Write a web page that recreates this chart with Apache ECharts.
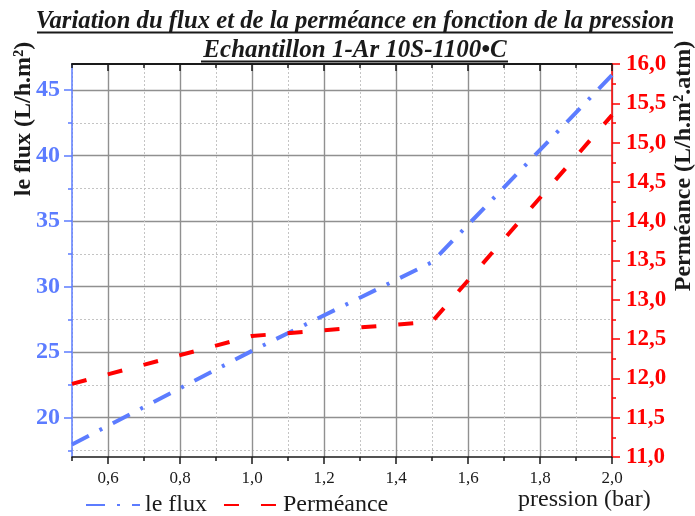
<!DOCTYPE html>
<html><head><meta charset="utf-8">
<script src="https://cdn.jsdelivr.net/npm/echarts@6/dist/echarts.min.js"></script>
<style>html,body{margin:0;padding:0;background:#fff}#c{width:695px;height:516px}</style>
</head><body><div id="c"></div>
<script>
const pression = [0.5, 1.0, 1.5, 2.0];
const flux = [17.96, 25.1, 31.87, 46.15];
const permeance = [11.93, 12.54, 12.72, 15.35];
const xMajorTicks = [0.6, 0.8, 1.0, 1.2, 1.4, 1.6, 1.8, 2.0];
const xMinorTicks = [0.5, 0.7, 0.9, 1.1, 1.3, 1.5, 1.7, 1.9];
const fluxTicks = [20, 25, 30, 35, 40, 45];
const fluxMinorTicks = [17.5, 22.5, 27.5, 32.5, 37.5, 42.5];
const titleText = 'Variation du flux et de la perméance en fonction de la pression';
const subtitleText = 'Echantillon 1-Ar 10S-1100•C';
const seriesNames = ['le flux', 'Perméance'];
const xName = 'pression (bar)';
const yLeftName = 'le flux (L/h.m²)';
const yRightName = 'Perméance (L/h.m².atm)';

const FONT = '"Liberation Serif", "Times New Roman", serif';
const BLUE = '#5c7cff';
const RED = '#ff0000';
const DARK = '#1a1a1a';
const comma = v => v.toFixed(1).replace('.', ',');

const chart = echarts.init(document.getElementById('c'), null, {renderer: 'canvas'});
const xBase = {type: 'value', min: 0.5, max: 2.0, gridIndex: 0};
const yLeftBase = {type: 'value', min: 17, max: 47, position: 'left', offset: 0};

chart.setOption({
  animation: false,
  backgroundColor: '#fff',
  grid: {left: 72, right: 83, top: 64, bottom: 59, containLabel: false, outerBoundsMode: 'none'},
  legend: {
    left: 80, top: 488, itemWidth: 54, itemHeight: 14, itemGap: 16,
    itemStyle: {opacity: 0},
    textStyle: {fontFamily: FONT, fontSize: 24, color: DARK},
    data: seriesNames
  },
  xAxis: [
    Object.assign({}, xBase, {
      position: 'bottom',
      axisLine: {show: true, lineStyle: {color: DARK, width: 1.5}},
      axisTick: {show: true, inside: false, length: 7, customValues: xMajorTicks, lineStyle: {color: DARK, width: 1.5}},
      axisLabel: {show: true, customValues: xMajorTicks, formatter: comma, margin: 13,
        fontFamily: FONT, fontSize: 17, color: DARK},
      splitLine: {show: true, lineStyle: {color: '#909090', width: 1.4, type: 'solid'}}
    }),
    Object.assign({}, xBase, {
      position: 'bottom', offset: 0,
      axisLine: {show: false},
      axisTick: {show: true, inside: false, length: 4, customValues: xMinorTicks, lineStyle: {color: DARK, width: 1.5}},
      axisLabel: {show: false},
      splitLine: {show: true, lineStyle: {color: '#c4c4c4', width: 1, type: [2, 2]}}
    }),
    Object.assign({}, xBase, {
      position: 'top', offset: 0,
      axisLine: {show: true, lineStyle: {color: DARK, width: 2}},
      axisTick: {show: true, inside: true, length: 7, customValues: xMajorTicks, lineStyle: {color: DARK, width: 1.5}},
      axisLabel: {show: false},
      splitLine: {show: false}
    }),
    Object.assign({}, xBase, {
      position: 'top', offset: 0,
      axisLine: {show: false},
      axisTick: {show: true, inside: true, length: 4, customValues: xMinorTicks, lineStyle: {color: DARK, width: 1.5}},
      axisLabel: {show: false},
      splitLine: {show: false}
    })
  ],
  yAxis: [
    Object.assign({}, yLeftBase, {
      axisLine: {show: true, lineStyle: {color: BLUE, width: 1.5}},
      axisTick: {show: true, inside: false, length: 8, customValues: fluxTicks, lineStyle: {color: BLUE, width: 1.5}},
      axisLabel: {show: true, customValues: fluxTicks, margin: 12,
        fontFamily: FONT, fontSize: 24, fontWeight: 'bold', color: BLUE},
      splitLine: {show: true, lineStyle: {color: '#909090', width: 1.4, type: 'solid'}}
    }),
    Object.assign({}, yLeftBase, {
      axisLine: {show: false},
      axisTick: {show: true, inside: false, length: 4, customValues: fluxMinorTicks, lineStyle: {color: BLUE, width: 1.5}},
      axisLabel: {show: false},
      splitLine: {show: true, lineStyle: {color: '#c4c4c4', width: 1, type: [2, 2]}}
    }),
    {
      type: 'value', min: 11, max: 16, interval: 0.5, position: 'right', offset: 0,
      axisLine: {show: true, lineStyle: {color: RED, width: 1.5}},
      axisTick: {show: true, inside: false, length: 8, lineStyle: {color: RED, width: 1.5}},
      minorTick: {show: true, splitNumber: 2, length: 4, lineStyle: {color: RED, width: 1.5}},
      axisLabel: {show: true, formatter: comma, margin: 14,
        fontFamily: FONT, fontSize: 23, fontWeight: 'bold', color: RED},
      splitLine: {show: false}
    }
  ],
  series: [
    {
      name: seriesNames[0], type: 'line', xAxisIndex: 0, yAxisIndex: 0,
      data: pression.map((p, i) => [p, flux[i]]),
      symbol: 'none', showSymbol: false,
      lineStyle: {color: BLUE, width: 4, type: [19, 12, 3, 12], cap: 'butt'},
      itemStyle: {color: BLUE}
    },
    {
      name: seriesNames[1], type: 'line', xAxisIndex: 0, yAxisIndex: 2,
      data: pression.map((p, i) => [p, permeance[i]]),
      symbol: 'none', showSymbol: false,
      lineStyle: {color: RED, width: 4, type: [15, 22], cap: 'butt'},
      itemStyle: {color: RED}
    }
  ],
  graphic: [
    {type: 'text', style: {text: titleText, x: 355, y: 22, align: 'center', verticalAlign: 'middle',
      font: 'italic bold 24.7px ' + FONT, fill: DARK}},
    {type: 'line', shape: {x1: 37, y1: 32.5, x2: 673, y2: 32.5}, style: {stroke: DARK, lineWidth: 2}},
    {type: 'text', style: {text: subtitleText, x: 355, y: 51, align: 'center', verticalAlign: 'middle',
      font: 'italic bold 25px ' + FONT, fill: DARK}},
    {type: 'line', shape: {x1: 201, y1: 61.5, x2: 508, y2: 61.5}, style: {stroke: DARK, lineWidth: 2}},
    {type: 'text', style: {text: xName, x: 518, y: 500, align: 'left', verticalAlign: 'middle',
      font: '24px ' + FONT, fill: DARK}},
    {type: 'text', rotation: Math.PI / 2, x: 24, y: 119,
      style: {text: yLeftName, x: 0, y: 0, align: 'center', verticalAlign: 'middle',
      font: 'bold 24px ' + FONT, fill: DARK}},
    {type: 'text', rotation: Math.PI / 2, x: 684, y: 166,
      style: {text: yRightName, x: 0, y: 0, align: 'center', verticalAlign: 'middle',
      font: 'bold 24px ' + FONT, fill: DARK}}
  ]
});
</script>
</body></html>
